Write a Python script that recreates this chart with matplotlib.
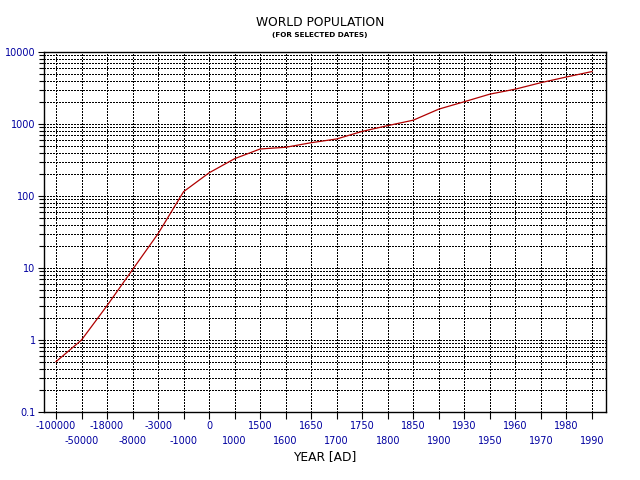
"""
World population for selected dates (log scale)
"""

import numpy as np
import matplotlib
matplotlib.use('Agg')
import matplotlib.pyplot as plt
from matplotlib.ticker import FixedLocator, NullFormatter

# Données (millions)
years = ['-100000', '-50000', '-18000', '-8000', '-3000', '-1000', '0',
         '1000', '1500', '1600', '1650', '1700', '1750', '1800', '1850',
         '1900', '1930', '1950', '1960', '1970', '1980', '1990']
population = [0.5, 1.0, 3.0, 9.5, 30, 115, 210, 330, 450, 475, 550, 620,
              790, 950, 1130, 1610, 2040, 2600, 3050, 3750, 4500, 5350]

y_ticks = [0.1, 1, 10, 100, 1000, 10000]
y_labels = ['0.1', '1', '10', '100', '1000', '10000']

label_color = '#0000a0'
dots = (0, (2.0, 2.0))

fig = plt.figure(figsize=(6.4, 4.8), dpi=100)
ax = fig.add_axes([44/640, 1 - 412/480, 562/640, 360/480])

x = np.arange(len(years))
ax.plot(x, population, color='#b00000', linewidth=0.9)

# Axe Y logarithmique
ax.set_yscale('log')
ax.set_ylim(0.1, 10000)
ax.yaxis.set_major_locator(FixedLocator(y_ticks))
ax.set_yticklabels(y_labels)
minors = [m * 10.0**e for e in range(-1, 4) for m in range(2, 10)]
ax.yaxis.set_minor_locator(FixedLocator(minors))
ax.yaxis.set_minor_formatter(NullFormatter())

# Axe X : étiquettes sur deux rangées
ax.set_xlim(-0.47, len(years) - 0.45)
ax.set_xticks(x[::2])
ax.set_xticklabels(years[::2])
ax.set_xticks(x[1::2], minor=True)
ax.set_xticklabels(years[1::2], minor=True)

ax.tick_params(axis='x', which='both', direction='out', length=5.0,
               width=0.8, labelsize=7, labelcolor=label_color, color='black')
ax.tick_params(axis='x', which='major', pad=1.5)
ax.tick_params(axis='x', which='minor', pad=12.3)
ax.tick_params(axis='y', which='major', direction='out', length=4.5,
               width=0.8, labelsize=7, labelcolor=label_color, pad=1.5)
ax.tick_params(axis='y', which='minor', direction='out', length=3.5,
               width=0.8)

# Grille pointillée
ax.grid(True, which='both', axis='both', color='black', linestyle=dots,
        linewidth=0.72, antialiased=False)
ax.set_axisbelow(True)

for sp in ax.spines.values():
    sp.set_color('black')
    sp.set_linewidth(1.0)

fig.text(0.5, 1 - 22.5/480, 'WORLD POPULATION', ha='center', va='center',
         fontsize=8.8, color='black')
fig.text(0.5, 1 - 34.5/480, '(FOR SELECTED DATES)', ha='center', va='center',
         fontsize=5.2, fontweight='bold', color='black')
fig.text(325/640, 1 - 457/480, 'YEAR [AD]', ha='center', va='center',
         fontsize=8.8, color='black')

plt.savefig('out.png', dpi=100)
plt.close()
